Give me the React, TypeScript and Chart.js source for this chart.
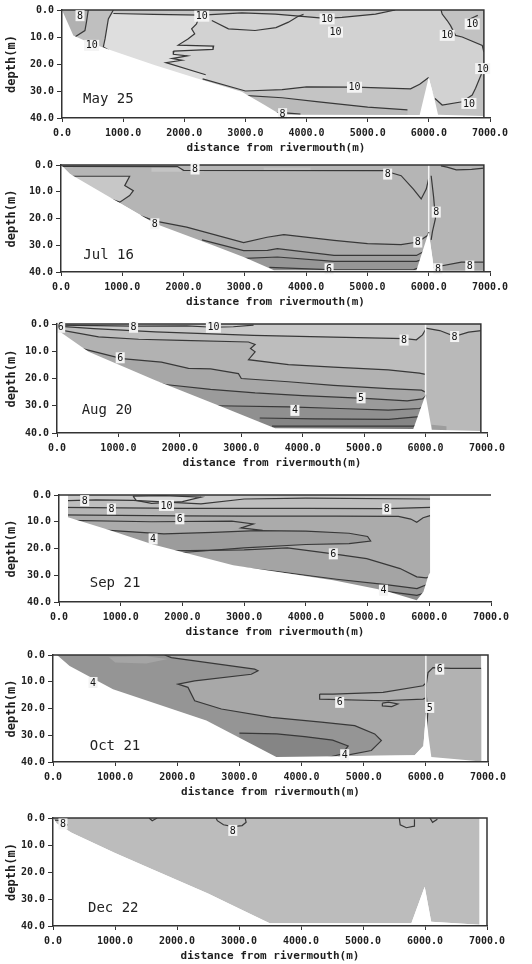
import React, { useEffect, useRef } from 'react';
import { Chart, registerables } from 'chart.js';

Chart.register(...registerables);

type Pt = [number, number];
type Tag = [string, number, number];

// ---------- shared axis data ----------
const distanceTicks = [0, 1000, 2000, 3000, 4000, 5000, 6000, 7000];
const depthTicks = [0, 10, 20, 30, 40];
const surveyDates = ['May 25', 'Jul 16', 'Aug 20', 'Sep 21', 'Oct 21', 'Dec 22'];

// ---------- May 25 ----------
const mayBottom: Pt[] = [[0, 0], [185, 9.4], [431, 11.9], [813, 15], [1522, 20.5], [2200, 25.3], [2940, 30.3], [3300, 35], [3580, 38.8], [5850, 38.9], [5997, 25], [6096, 33.3], [6150, 38.8], [6900, 39.3], [6900, 0]];
const mayWedge: Pt[] = [[0, -1], [840, -1], [840, 0], [758, 3.3], [731, 7], [704, 10.7], [676, 13.7], [760, 16], [0, 16]];
const mayCorner: Pt[] = [[0, -1], [430, -1], [430, 0], [400, 4.5], [375, 7.6], [210, 10], [0, 10]];
const mayStrip: Pt[] = [[840, -1], [5450, -1], [5450, 0], [5127, 1.5], [4580, 2.7], [4310, 3.1], [3490, 1.5], [2940, 1.1], [2290, 1.9], [1500, 1.6], [840, 1.3]];
const mayLens: Pt[] = [[840, 1.3], [1500, 1.6], [2250, 1.9], [2230, 3.3], [2200, 5.2], [2120, 7], [2170, 8.8], [2060, 10.7], [1900, 13], [2480, 13.4], [2470, 14.6], [1830, 15.2], [1820, 16.4], [2050, 17], [1800, 18], [1960, 18.6], [1700, 19.5], [2350, 24], [2350, 31], [700, 31], [676, 13.7], [704, 10.7], [731, 7], [758, 3.3]];
const mayRightTop: Pt[] = [[6200, -1], [6200, 0], [6218, 1.5], [6300, 3.9], [6355, 5.8], [6436, 9.4], [6545, 10], [6873, 13.1], [6900, 15.6], [7000, 15.6], [7000, -1]];
const mayRightLow: Pt[] = [[6050, 30], [6100, 32.8], [6218, 35.2], [6545, 34], [6709, 31.5], [6764, 29], [6873, 23], [6900, 21], [7000, 21], [7000, 42], [6050, 42]];
const mayWedgeLine: Pt[] = [[840, 0], [758, 3.3], [731, 7], [704, 10.7], [676, 13.7], [760, 14.8]];
const mayInnerLine: Pt[] = [[430, 0], [400, 4.5], [375, 7.6], [210, 10]];
const mayStripLine: Pt[] = [[840, 1.3], [1500, 1.6], [2290, 1.9], [2940, 1.1], [3490, 1.5], [4310, 3.1], [4580, 2.7], [5127, 1.5], [5450, 0]];
const mayLensLine: Pt[] = [[2450, 3.9], [2722, 7], [3158, 7.6], [3500, 6.5], [3704, 4.5], [3850, 2.5], [3950, 1.6]];
const mayJagged: Pt[] = [[2250, 1.9], [2230, 3.3], [2200, 5.2], [2120, 7], [2170, 8.8], [2060, 10.7], [1900, 13], [2480, 13.4], [2470, 14.6], [1830, 15.2], [1820, 16.4], [2050, 17], [1800, 18], [1960, 18.6], [1700, 19.5], [2350, 24]];
const mayBandLine: Pt[] = [[2300, 25.5], [3000, 30], [3600, 29.5], [4000, 28.5], [4800, 28.6], [5700, 29.2], [5850, 27.5], [5997, 25]];
const mayLowLine: Pt[] = [[2900, 31.5], [3600, 32.5], [4200, 34], [5000, 36], [5650, 37]];
const mayFloorLine: Pt[] = [[3450, 38.3], [3600, 38], [3900, 38.6]];
const mayRightTopLine: Pt[] = [[6200, 0], [6218, 1.5], [6300, 3.9], [6355, 5.8], [6436, 9.4], [6545, 10], [6873, 13.1], [6900, 15.6]];
const mayRightLowLine: Pt[] = [[6100, 32.8], [6218, 35.2], [6545, 34], [6709, 31.5], [6764, 29], [6873, 23], [6900, 21]];
const mayNookLine: Pt[] = [[6650, 3.5], [6750, 2.5], [6800, 2]];
const mayLabels: Tag[] = [['8', 295, 2.1], ['10', 485, 13.1], ['10', 2286, 2.3], ['10', 4336, 3.3], ['10', 4473, 8.2], ['10', 4784, 28.6], ['8', 3608, 38.4], ['10', 6300, 9.4], ['10', 6709, 5.2], ['10', 6880, 21.7], ['10', 6655, 34.6]];

// ---------- Jul 16 ----------
const julBottom: Pt[] = [[0, 0], [147, 3.4], [1000, 14.8], [1540, 22], [2500, 30.2], [3000, 34.6], [3475, 39.3], [5800, 39.3], [6000, 25], [6090, 39.5], [6900, 39.5], [6900, 0]];
const julPocket: Pt[] = [[150, 4.2], [1120, 4.2], [1040, 7.7], [1180, 9.6], [1120, 11.4], [960, 13.9], [650, 11.5], [380, 9], [137, 7.5]];
const julPatchA: Pt[] = [[1476, 0.9], [1968, 0.9], [1968, 2.5], [1476, 2.5]];
const julPatchB: Pt[] = [[3307, 0.9], [4073, 0.9], [4073, 2.1], [3307, 2.1]];
const julL1: Pt[] = [[1300, 19], [1540, 21], [2050, 23.2], [2980, 29], [3362, 27], [3636, 26], [4455, 28.2], [5002, 29.4], [5549, 29.8], [5822, 28.8], [5986, 26.3], [6000, 25]];
const julL2: Pt[] = [[2300, 28], [2980, 32], [3370, 31.9], [3530, 31.3], [4455, 33.8], [5800, 33.8], [5950, 32], [6000, 30]];
const julL3: Pt[] = [[2900, 35], [3530, 34.4], [4455, 36], [5800, 36], [5950, 35], [6000, 34]];
const julL4: Pt[] = [[3400, 38.3], [4455, 39.2], [5750, 39.2], [5930, 37.5], [6000, 36]];
const julRightLow: Pt[] = [[6000, 38.6], [6533, 36.3], [7000, 36.3], [7000, 42], [6000, 42]];
const julTopLine: Pt[] = [[0, 0.5], [1900, 0.6], [2000, 2], [5275, 2.1], [5400, 3], [5550, 4], [5750, 9], [5877, 12.7], [5960, 9], [6000, 5]];
const julSpikeLine: Pt[] = [[6040, 4], [6080, 12], [6110, 20], [6060, 25], [6040, 28]];
const julRightTopLine: Pt[] = [[6200, 0.3], [6300, 0.8], [6450, 1.8], [6700, 1.6], [6900, 1.2]];
const julRightLowLine: Pt[] = [[6000, 38.6], [6533, 36.3], [6900, 36.3]];
const julLabels: Tag[] = [['8', 2187, 1.5], ['8', 5330, 3.4], ['8', 6123, 17.6], ['8', 5822, 28.8], ['8', 1531, 22], ['6', 4374, 38.8], ['8', 6150, 38.8], ['8', 6670, 37.8]];

// ---------- Aug 20 ----------
const augBottom: Pt[] = [[0, 0], [54, 2.9], [514, 10.2], [1598, 20.6], [2683, 30.4], [3550, 38.3], [5800, 38.5], [6000, 26], [6100, 38.8], [6900, 39.3], [6900, 0]];
const augTop: Pt[] = [[0, 0.4], [1246, 0.8], [2113, 0.7], [2546, 1.2], [2871, 1], [3200, 0.4]];
const augB: Pt[] = [[0, 0.8], [600, 1.7], [1600, 2.9], [3200, 4.2], [4500, 4.8], [5665, 5.4], [5850, 5.8], [5950, 4], [6000, 2]];
const augC: Pt[] = [[0, 2], [677, 4.7], [1328, 5.6], [2033, 6], [3117, 6.6], [3225, 7.5], [3150, 9], [3225, 10.2], [3117, 13.1], [3767, 14.9], [4500, 15.8], [5393, 16.8], [5900, 18], [6000, 18.5]];
const augD: Pt[] = [[0, 3], [300, 8.4], [1057, 12.7], [1700, 14], [2141, 16.3], [2500, 16.5], [2954, 18.2], [3000, 20], [3767, 21.2], [4500, 22.5], [5393, 23.7], [5934, 24.3], [6000, 25]];
const augE: Pt[] = [[1400, 20], [1761, 22.2], [2500, 24], [3225, 25.3], [4000, 26.3], [5012, 27.3], [5700, 28.2], [5950, 27.5], [6000, 26.5]];
const augF: Pt[] = [[2600, 30], [3767, 30.4], [4600, 31], [5393, 31.6], [5900, 31], [6000, 30]];
const augG: Pt[] = [[3300, 34.5], [4200, 34.8], [5400, 35], [5900, 34], [6000, 33]];
const augH: Pt[] = [[3500, 37.5], [5800, 37.5], [6000, 36]];
const augRight: Pt[] = [[6000, -1], [7000, -1], [7000, 42], [6000, 42]];
const augRightTopLine: Pt[] = [[6000, 1.5], [6230, 2.4], [6473, 4.5], [6700, 3], [6907, 2.4]];
const augRightTop: Pt[] = [[6000, 1.5], [6230, 2.4], [6473, 4.5], [6700, 3], [6907, 2.4], [7000, 2.4], [7000, -1], [6000, -1]];
const augPocket: Pt[] = [[6100, 37], [6340, 37.5], [6340, 42], [6100, 42]];
const augLabels: Tag[] = [['6', 60, 1.2], ['8', 1246, 1.2], ['10', 2546, 1.2], ['8', 5650, 5.9], ['8', 6473, 4.6], ['6', 1029, 12.4], ['5', 4950, 27.1], ['4', 3873, 31.7]];

// ---------- Sep 21 ----------
const sepBottom: Pt[] = [[0, 0], [146, 0], [146, 8.3], [800, 13], [1525, 18.5], [2823, 26.3], [4445, 31.9], [5257, 35.6], [5797, 39.3], [5905, 36.2], [5987, 30], [6014, 29], [6014, 0]];
const sepTL: Pt[] = [[0, 2.2], [600, 1.8], [1200, 2], [2300, 3.3], [3000, 1.5], [4000, 1.2], [6014, 1.5]];
const sepS1: Pt[] = [[0, 4.6], [2000, 5], [4000, 5], [5311, 5.1], [6014, 4.6]];
const sepS2: Pt[] = [[0, 7.4], [1958, 7.8], [3000, 7.9], [4500, 7.9], [5500, 8], [5700, 9], [5797, 10.2], [5900, 8.5], [6014, 7.7]];
const sepCurl: Pt[] = [[146, 9.5], [1500, 10], [2800, 9.8], [3150, 10.8], [2950, 12.3], [3300, 13.2]];
const sepTongue: Pt[] = [[0, 12], [1000, 13.5], [1700, 14.5], [2500, 14], [3200, 13.3], [4000, 13.5], [4700, 14.3], [5000, 15.5], [5050, 17.2], [4700, 18.2], [4000, 18.5], [3000, 19.8], [2000, 21.5], [0, 21.5]];
const sepLower6: Pt[] = [[1500, 21], [3000, 20.5], [3700, 19.8], [4445, 22], [4986, 23.8], [5527, 27.5], [5797, 30.6], [5950, 31], [6014, 30.5]];
const sepB2: Pt[] = [[2500, 26], [3500, 28.5], [4500, 31.5], [5300, 33.5], [5800, 35], [6014, 33]];
const sepB3: Pt[] = [[3500, 30.5], [4500, 33.5], [5300, 36], [5800, 37.5], [6014, 36]];
const sepLens: Pt[] = [[1200, 0.4], [1700, 0.2], [2300, 0.8], [2000, 2.5], [1500, 3.1], [1250, 2]];
const sepLabels: Tag[] = [['8', 416, 2.1], ['10', 1741, 3.9], ['8', 849, 5.2], ['6', 1958, 8.9], ['8', 5311, 5.2], ['4', 1525, 16.4], ['6', 4445, 22], ['4', 5257, 35.6]];

// ---------- Oct 21 ----------
const octBottom: Pt[] = [[0, 0], [64, 0], [268, 4.1], [966, 12.8], [2468, 24.5], [3594, 38.1], [5820, 37.5], [5960, 34], [6005, 21], [6040, 30], [6088, 38.1], [6500, 39], [6893, 39.8], [6893, 0]];
const octDark: Pt[] = [[0, -1], [1797, -1], [1797, 0], [1904, 1], [3245, 5.3], [3299, 5.9], [3191, 7.2], [2280, 9.7], [2011, 10.9], [2172, 12.1], [2280, 17.1], [2709, 20.2], [3513, 23.3], [4318, 25.1], [4855, 26.4], [5177, 29.5], [5284, 32], [5123, 35.7], [4586, 38.1], [4586, 42], [0, 42]];
const octDarkLine: Pt[] = [[1797, 0], [1904, 1], [3245, 5.3], [3299, 5.9], [3191, 7.2], [2280, 9.7], [2011, 10.9], [2172, 12.1], [2280, 17.1], [2709, 20.2], [3513, 23.3], [4318, 25.1], [4855, 26.4], [5177, 29.5], [5284, 32], [5123, 35.7], [4586, 38.1]];
const octLens: Pt[] = [[900, 0.8], [1500, 0.5], [1850, 1.5], [1500, 3.2], [1000, 2.8]];
const octPocket: Pt[] = [[3000, 29.2], [3600, 29.5], [4050, 30.5], [4500, 31.8], [4750, 34], [4650, 37], [4300, 39], [3000, 39]];
const octBand: Pt[] = [[4291, 14.6], [4506, 14.6], [5311, 14], [5955, 11.5], [6000, 10.5], [6000, 16], [5955, 16.5], [5311, 17.1], [4291, 16.5]];
const octOval: Pt[] = [[5300, 18], [5400, 17.6], [5550, 18.3], [5450, 19.3], [5300, 19]];
const octRight: Pt[] = [[6000, 6.6], [6035, 6.6], [6115, 4.7], [6400, 5], [7000, 5], [7000, 42], [6000, 42]];
const octRightLine: Pt[] = [[6000, 12], [6035, 6.6], [6115, 4.7], [6400, 5], [6893, 5]];
const octSpikeLine: Pt[] = [[6000, 11], [6010, 16], [6030, 22], [6010, 28]];
const octLabels: Tag[] = [['4', 644, 10.3], ['6', 4613, 17.7], ['5', 6062, 19.6], ['6', 6223, 5.3], ['4', 4694, 37.3]];

// ---------- Dec 22 ----------
const decBottom: Pt[] = [[0, 0], [60, 2], [300, 5.5], [1000, 13], [1600, 19], [2500, 28], [3000, 33.5], [3495, 39], [5780, 39], [5995, 25.5], [6100, 38.4], [6880, 39.5], [6880, 0]];
const decLeftLine: Pt[] = [[30, 0.8], [150, 1], [230, 2.5], [180, 4]];
const decNickA: Pt[] = [[1550, 0], [1600, 1], [1680, 0]];
const decArc: Pt[] = [[2631, 0], [2650, 1], [2750, 2.5], [2900, 3.2], [3050, 2.8], [3115, 1.6], [3100, 0]];
const decCup: Pt[] = [[5585, 0], [5600, 2.5], [5700, 3.6], [5826, 3], [5830, 0.5]];
const decNickB: Pt[] = [[6080, 0], [6122, 1.6], [6200, 0.5]];
const decLabels: Tag[] = [['8', 161, 2.2], ['8', 2900, 4.6]];

// ---------- helpers that build library datasets ----------
const band = (line: Pt[]): Pt[] => [...line, [line[line.length - 1][0], 42], [line[0][0], 42]];

interface PanelCfg {
  date: string;
  dateAt: Pt;
  area: { left: number; right: number; top: number; bottom: number };
  bottom: Pt[];
  base: string;
  fills: [Pt[], string][];
  lines: Pt[][];
  labels: Tag[];
  gap: number | null;
  frameRight: number | null;
}

const panels: PanelCfg[] = [
  {
    date: surveyDates[0], dateAt: [344, 33.2],
    area: { left: 62, right: 490, top: 9, bottom: 118 },
    bottom: mayBottom, base: '#d2d2d2',
    fills: [
      [mayWedge, '#bfbfbf'], [mayCorner, '#b1b1b1'], [mayStrip, '#c6c6c6'], [mayLens, '#dedede'],
      [band(mayBandLine), '#c4c4c4'], [band(mayLowLine), '#bababa'], [mayRightTop, '#c2c2c2'], [mayRightLow, '#c2c2c2'],
    ],
    lines: [mayWedgeLine, mayInnerLine, mayStripLine, mayLensLine, mayJagged, mayBandLine, mayLowLine, mayFloorLine, mayRightTopLine, mayRightLowLine, mayNookLine],
    labels: mayLabels, gap: null, frameRight: 6900,
  },
  {
    date: surveyDates[1], dateAt: [364, 33.6],
    area: { left: 61, right: 490, top: 164, bottom: 272 },
    bottom: julBottom, base: '#b5b5b5',
    fills: [
      [julPocket, '#c7c7c7'], [julPatchA, '#c4c4c4'], [julPatchB, '#c0c0c0'],
      [band(julL1), '#aaaaaa'], [band(julL2), '#a0a0a0'], [band(julL3), '#969696'], [band(julL4), '#8c8c8c'], [julRightLow, '#a6a6a6'],
    ],
    lines: [julTopLine, julSpikeLine, julRightTopLine, julRightLowLine, [...julPocket, julPocket[0]], julL1, julL2, julL3, julL4],
    labels: julLabels, gap: 25, frameRight: 6900,
  },
  {
    date: surveyDates[2], dateAt: [402, 31.7],
    area: { left: 57, right: 487, top: 323, bottom: 433 },
    bottom: augBottom, base: '#c9c9c9',
    fills: [
      [augRight, '#b9b9b9'], [augRightTop, '#c6c6c6'],
      [band(augB), '#bdbdbd'], [band(augC), '#b2b2b2'], [band(augD), '#a7a7a7'], [band(augE), '#9b9b9b'],
      [band(augF), '#909090'], [band(augG), '#858585'], [band(augH), '#7b7b7b'], [augPocket, '#9d9d9d'],
    ],
    lines: [augTop, augB, augC, augD, augE, augF, augG, augH, augRightTopLine],
    labels: augLabels, gap: 26, frameRight: 6900,
  },
  {
    date: surveyDates[3], dateAt: [498, 33],
    area: { left: 59, right: 491, top: 494, bottom: 602 },
    bottom: sepBottom, base: '#c7c7c7',
    fills: [
      [band(sepTL), '#bebebe'], [band(sepS1), '#b5b5b5'], [band(sepS2), '#ababab'], [band(sepLower6), '#a4a4a4'],
      [sepTongue, '#9c9c9c'], [band(sepB2), '#969696'], [band(sepB3), '#8a8a8a'], [sepLens, '#d8d8d8'],
    ],
    lines: [sepTL, sepS1, sepS2, sepCurl, [...sepTongue.slice(0, 13)], sepLower6, sepB2, sepB3, [...sepLens, sepLens[0]]],
    labels: sepLabels, gap: null, frameRight: null,
  },
  {
    date: surveyDates[4], dateAt: [591, 34.2],
    area: { left: 53, right: 488, top: 654, bottom: 762 },
    bottom: octBottom, base: '#a8a8a8',
    fills: [
      [octRight, '#b2b2b2'], [octDark, '#959595'], [octLens, '#a5a5a5'], [octPocket, '#858585'], [octBand, '#afafaf'], [octOval, '#afafaf'],
    ],
    lines: [octDarkLine, [...octPocket.slice(0, 7)], [...octBand, octBand[0]], [...octOval, octOval[0]], octRightLine, octSpikeLine],
    labels: octLabels, gap: 21, frameRight: 7000,
  },
  {
    date: surveyDates[5], dateAt: [564, 33.3],
    area: { left: 53, right: 487, top: 817, bottom: 926 },
    bottom: decBottom, base: '#bcbcbc',
    fills: [],
    lines: [decLeftLine, decNickA, decArc, decCup, decNickB],
    labels: decLabels, gap: null, frameRight: 7000,
  },
];

const PAD_TOP = 8;
const X_AXIS_H = 40;
const MONO = '"DejaVu Sans Mono", monospace';

const toXY = (pts: Pt[]) => pts.map(([x, y]) => ({ x, y }));

function buildDatasets(p: PanelCfg) {
  const sets: any[] = [];
  const poly = (pts: Pt[], color: string) => sets.push({
    data: toXY(pts), fill: 'shape', backgroundColor: color, borderWidth: 0,
    borderColor: 'rgba(0,0,0,0)', pointRadius: 0, tension: 0,
  });
  const line = (pts: Pt[], color: string, width: number) => sets.push({
    data: toXY(pts), fill: false, borderColor: color, borderWidth: width, pointRadius: 0, tension: 0,
  });
  poly(p.bottom, p.base);
  p.fills.forEach(([pts, c]) => poly(pts, c));
  const mask: Pt[] = [...p.bottom, [7000, 0], [7000, 42], [0, 42]];
  p.lines.forEach((l) => line(l, '#383838', 1.2));
  poly(mask, '#ffffff');
  if (p.gap !== null) line([[6000, -1], [6000, p.gap]], '#f4f4f4', 1.5);
  const n = sets.length;
  sets.forEach((s, i) => { s.order = n - i; });
  return sets;
}

function overlayPlugin(p: PanelCfg) {
  return {
    id: 'overlay',
    afterDatasetsDraw(chart: any) {
      const { ctx, scales } = chart;
      const xs = scales.x;
      const ys = scales.y;
      ctx.save();
      ctx.strokeStyle = '#333';
      ctx.lineWidth = 1.5;
      ctx.beginPath();
      const right = p.frameRight ?? 7000;
      ctx.moveTo(xs.getPixelForValue(0), ys.getPixelForValue(0));
      ctx.lineTo(xs.getPixelForValue(right), ys.getPixelForValue(0));
      if (p.frameRight !== null) ctx.lineTo(xs.getPixelForValue(p.frameRight), ys.getPixelForValue(40));
      ctx.stroke();
      ctx.font = '10px ' + MONO;
      ctx.textAlign = 'center';
      ctx.textBaseline = 'middle';
      for (const [t, dx, dy] of p.labels) {
        const px = xs.getPixelForValue(dx);
        const py = ys.getPixelForValue(dy);
        const w = ctx.measureText(t).width + 3;
        ctx.fillStyle = '#f3f3f3';
        ctx.fillRect(px - w / 2, py - 5.5, w, 11);
        ctx.fillStyle = '#111';
        ctx.fillText(t, px, py + 0.5);
      }
      ctx.font = '14px ' + MONO;
      ctx.textAlign = 'left';
      ctx.fillStyle = '#222';
      ctx.fillText(p.date, xs.getPixelForValue(p.dateAt[0]), ys.getPixelForValue(p.dateAt[1]));
      ctx.restore();
    },
  };
}

function Panel({ cfg }: { cfg: PanelCfg }) {
  const ref = useRef<HTMLCanvasElement>(null);
  const h = cfg.area.bottom - cfg.area.top + PAD_TOP + X_AXIS_H;
  useEffect(() => {
    const tickFont = { family: MONO, size: 10, weight: 'bold' as const };
    const chart = new Chart(ref.current as HTMLCanvasElement, {
      type: 'line',
      data: { datasets: buildDatasets(cfg) },
      options: {
        responsive: false,
        animation: false,
        events: [],
        layout: { padding: { left: 0, right: 532 - cfg.area.right, top: PAD_TOP, bottom: 0 } },
        plugins: { legend: { display: false }, tooltip: { enabled: false } },
        scales: {
          x: {
            type: 'linear', min: 0, max: 7000,
            afterBuildTicks: (s: any) => { s.ticks = distanceTicks.map((v) => ({ value: v })); },
            afterFit: (s: any) => { s.height = X_AXIS_H; },
            ticks: { callback: (v: any) => Number(v).toFixed(1), font: tickFont, color: '#1e1e1e', maxRotation: 0, autoSkip: false, padding: 5 },
            grid: { drawOnChartArea: false, drawTicks: true, tickLength: 4, color: '#333', z: 1 },
            border: { display: true, color: '#333', width: 1.5, z: 1 },
            title: { display: true, text: 'distance from rivermouth(m)', font: { family: MONO, size: 11, weight: 'bold' }, color: '#1e1e1e', padding: { top: 0, bottom: 3 } },
          },
          y: {
            type: 'linear', min: 0, max: 40, reverse: true,
            afterBuildTicks: (s: any) => { s.ticks = depthTicks.map((v) => ({ value: v })); },
            afterFit: (s: any) => { s.width = cfg.area.left; },
            ticks: { callback: (v: any) => Number(v).toFixed(1), font: tickFont, color: '#1e1e1e', padding: 3 },
            grid: { drawOnChartArea: false, drawTicks: true, tickLength: 5, color: '#333', z: 1 },
            border: { display: true, color: '#333', width: 1.5, z: 1 },
            title: { display: true, text: 'depth(m)', font: { family: MONO, size: 12, weight: 'bold' }, color: '#1e1e1e', padding: { top: 5, bottom: 0 } },
          },
        },
      },
      plugins: [overlayPlugin(cfg)],
    } as any);
    return () => chart.destroy();
  }, []);
  return (
    <canvas
      ref={ref}
      width={532}
      height={h}
      style={{ position: 'absolute', left: 0, top: cfg.area.top - PAD_TOP, width: 532, height: h }}
    />
  );
}

export default function App() {
  return (
    <div style={{ position: 'absolute', left: 0, top: 0, width: 532, height: 964, background: '#ffffff' }}>
      {panels.map((p) => <Panel key={p.date} cfg={p} />)}
    </div>
  );
}
